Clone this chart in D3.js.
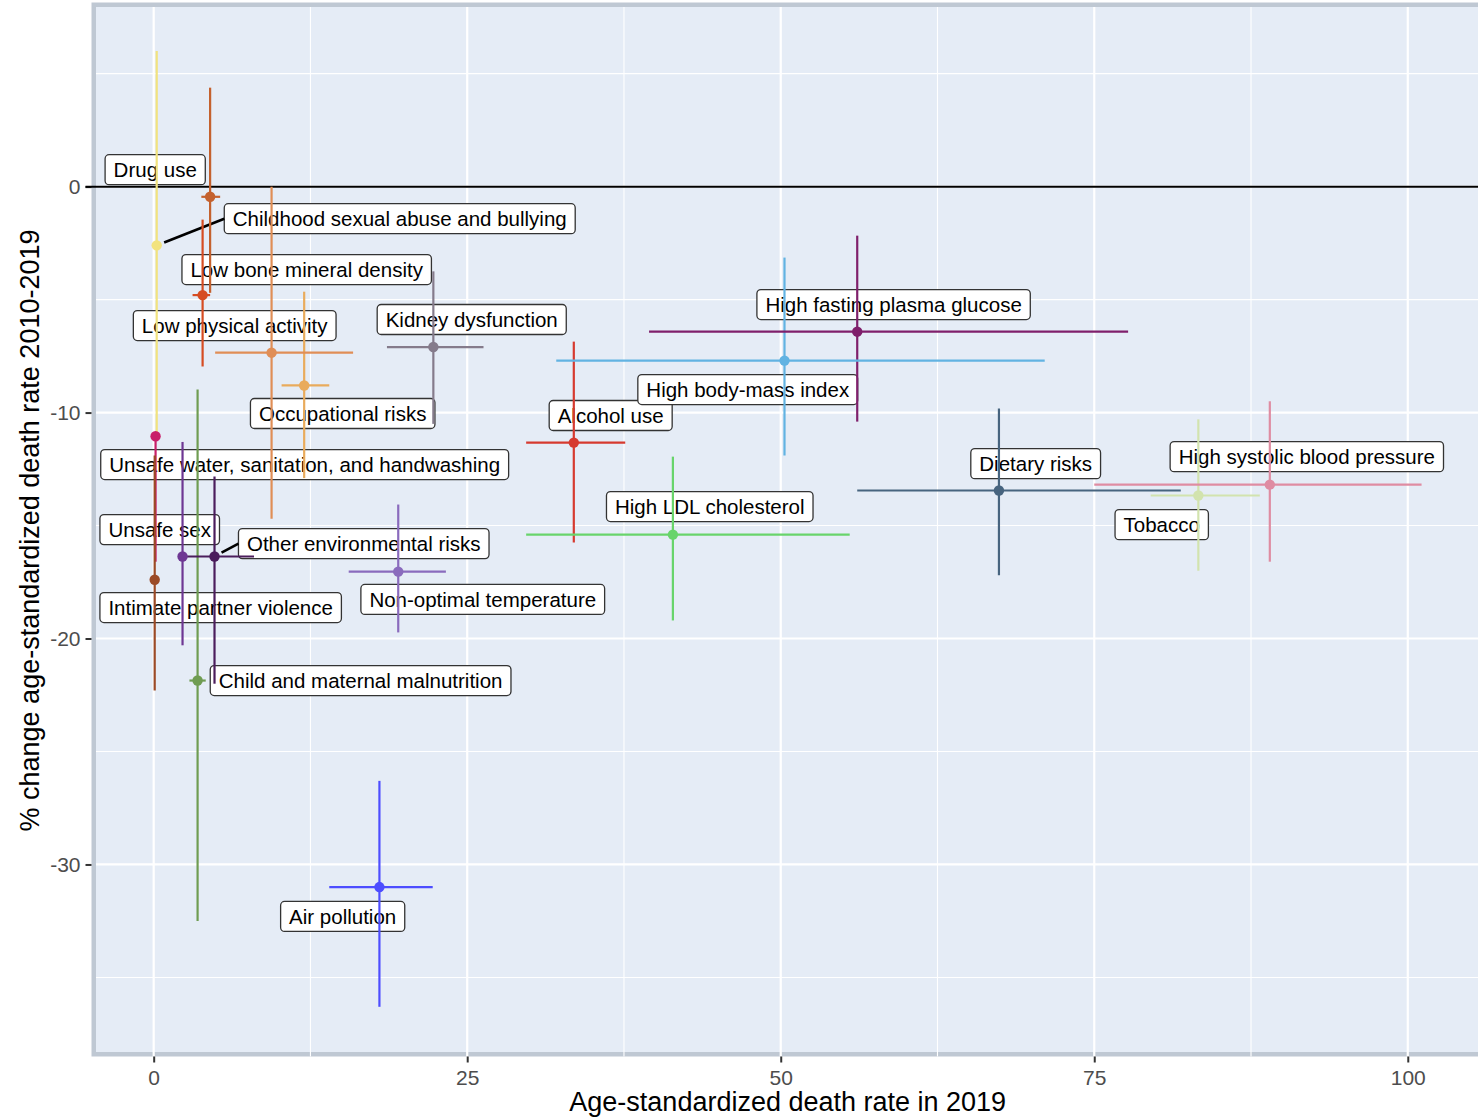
<!DOCTYPE html>
<html>
<head>
<meta charset="utf-8">
<script src="https://cdn.jsdelivr.net/npm/d3@7"></script>
<style>
  body { margin: 0; background: #fff; }
  svg { display: block; font-family: "Liberation Sans", Arial, Helvetica, sans-serif; }
</style>
</head>
<body>
<div id="container"></div>
<script>
/* DATA (drawing order) */
const risks = [
  "Unsafe water, sanitation, and handwashing", "Intimate partner violence",
  "Childhood sexual abuse and bullying", "Drug use", "Low bone mineral density",
  "Low physical activity", "Occupational risks", "Kidney dysfunction", "Unsafe sex",
  "Other environmental risks", "Child and maternal malnutrition", "Non-optimal temperature",
  "Air pollution", "Alcohol use", "High LDL cholesterol", "High body-mass index",
  "High fasting plasma glucose", "Dietary risks", "Tobacco", "High systolic blood pressure"
];
// age-standardized death rate 2019 (value, lower, upper)
const rate   = [0.15, 0.08, 0.24, 4.5, 3.9, 9.4, 12.0, 22.3, 2.3, 4.85, 3.5, 19.5, 18.0, 33.5, 41.4, 50.3, 56.1, 67.4, 83.3, 89.0];
const rateLo = [0.05, 0.0, 0.14, 3.8, 3.1, 4.9, 10.2, 18.6, 2.0, 2.0, 2.85, 15.55, 14.0, 29.7, 29.7, 32.1, 39.5, 56.1, 79.5, 75.0];
const rateHi = [0.25, 0.16, 0.34, 5.3, 4.5, 15.9, 14.0, 26.3, 2.6, 8.0, 4.15, 23.3, 22.25, 37.6, 55.5, 71.05, 77.7, 81.9, 88.2, 101.1];
// % change 2010-2019 (value, lower, upper)
const change   = [-11.05, -17.4, -2.6, -0.45, -4.8, -7.35, -8.8, -7.1, -16.37, -16.37, -21.86, -17.04, -31.0, -11.33, -15.4, -7.7, -6.42, -13.45, -13.67, -13.19];
const changeLo = [-16.6, -22.3, -11.06, -4.7, -7.96, -14.7, -12.9, -10.5, -20.3, -22.0, -32.5, -19.73, -36.3, -15.75, -19.2, -11.9, -10.4, -17.2, -17.0, -16.6];
const changeHi = [-11.0, -11.9, 6.0, 4.38, -1.46, 0.0, -4.65, -3.75, -11.3, -12.83, -8.98, -14.07, -26.3, -6.86, -11.95, -3.14, -2.17, -9.82, -10.3, -9.5];
const colors = ["#c8206a", "#9b4a26", "#f2e37e", "#c4612e", "#d64c22", "#e08e56", "#e9ab5c", "#857b8b", "#6e3793",
  "#4b1d5c", "#6f9c52", "#8a6bbd", "#4d4dff", "#d63a2f", "#68d46b", "#62b3e2", "#7f1f6b", "#47647f", "#d2e3ae", "#df8ca2"];
// repelled label centres (data units)
const labelX = [12.04, 5.34, 19.62, 0.12, 12.2, 6.46, 15.07, 25.36, 0.48, 16.75, 16.5, 26.24, 15.07, 36.44, 44.34, 47.37, 59.0, 70.33, 80.38, 91.95];
const labelY = [-12.3, -18.63, -1.42, 0.75, -3.67, -6.15, -10.04, -5.88, -15.18, -15.8, -21.86, -18.27, -32.3, -10.13, -14.16, -8.98, -5.22, -12.26, -14.96, -11.95];
const segmentRisks = ["Childhood sexual abuse and bullying", "Other environmental risks"];
const xTicks = [0, 25, 50, 75, 100];
const yTicks = [0, -10, -20, -30];

const data = risks.map((r, i) => ({
  risk: r, x: rate[i], xlo: rateLo[i], xhi: rateHi[i],
  y: change[i], ylo: changeLo[i], yhi: changeHi[i],
  color: colors[i], lx: labelX[i], ly: labelY[i]
}));

/* CONSTANTS */
const width = 1478, height = 1118,
  margin = { top: 7, right: 0, bottom: 66, left: 96 };

const x = d3.scaleLinear().domain([-4.6, 105.6]).range([margin.left, width - margin.right]);
const y = d3.scaleLinear().domain([-38.3, 7.95]).range([height - margin.bottom, margin.top]);

const svg = d3.select("#container").append("svg")
  .attr("width", width).attr("height", height);

// panel + border
const border = 4.5;
svg.append("rect")
  .attr("x", margin.left - border / 2).attr("y", margin.top - border / 2)
  .attr("width", width - margin.left + border).attr("height", y.range()[0] - margin.top + border)
  .attr("fill", "#e5ecf6").attr("stroke", "#bfc8d3").attr("stroke-width", border);

// grid
const xMinor = [12.5, 37.5, 62.5, 87.5];
const yMinor = [5, -5, -15, -25, -35];
const grid = svg.append("g");
grid.selectAll(".xminor").data(xMinor).join("line")
  .attr("x1", d => x(d)).attr("x2", d => x(d))
  .attr("y1", margin.top).attr("y2", y.range()[0] + border)
  .attr("stroke", "#fff").attr("stroke-width", 1.1);
grid.selectAll(".yminor").data(yMinor).join("line")
  .attr("x1", margin.left).attr("x2", width)
  .attr("y1", d => y(d)).attr("y2", d => y(d))
  .attr("stroke", "#fff").attr("stroke-width", 1.1);
grid.selectAll(".xmajor").data(xTicks).join("line")
  .attr("x1", d => x(d)).attr("x2", d => x(d))
  .attr("y1", margin.top).attr("y2", y.range()[0] + border)
  .attr("stroke", "#fff").attr("stroke-width", 2.2);
grid.selectAll(".ymajor").data(yTicks).join("line")
  .attr("x1", margin.left).attr("x2", width)
  .attr("y1", d => y(d)).attr("y2", d => y(d))
  .attr("stroke", "#fff").attr("stroke-width", 2.2);

// axes
const xAxis = svg.append("g")
  .attr("transform", `translate(0,${y.range()[0] + border})`)
  .call(d3.axisBottom(x).tickValues(xTicks).tickSize(6).tickPadding(4).tickFormat(d3.format("d")));
const yAxis = svg.append("g")
  .attr("transform", `translate(${margin.left - border},0)`)
  .call(d3.axisLeft(y).tickValues(yTicks).tickSize(6).tickPadding(5).tickFormat(d => d === 0 ? "0" : "-" + Math.abs(d)));
[xAxis, yAxis].forEach(a => {
  a.select(".domain").remove();
  a.selectAll(".tick line").attr("stroke", "#333").attr("stroke-width", 2);
  a.selectAll(".tick text").attr("fill", "#4d4d4d").style("font-size", "21px")
    .style("font-family", '"Liberation Sans", Arial, sans-serif');
});
xAxis.selectAll(".tick text").attr("dy", "0.9em");

// zero line
svg.append("line")
  .attr("x1", margin.left - border - 6).attr("x2", width)
  .attr("y1", y(0)).attr("y2", y(0))
  .attr("stroke", "#000").attr("stroke-width", 2);

// axis titles
svg.append("text")
  .attr("x", (x(0) + x(100)) / 2 + 7).attr("y", height - 7)
  .attr("text-anchor", "middle").style("font-size", "27px").attr("fill", "#000")
  .text("Age-standardized death rate in 2019");
svg.append("text")
  .attr("transform", `translate(39,${(margin.top + y.range()[0]) / 2 + 1}) rotate(-90)`)
  .attr("text-anchor", "middle").style("font-size", "27px").attr("fill", "#000")
  .text("% change age-standardized death rate 2010-2019");

// labels
const pad = 8.5, boxH = 30;
const labels = svg.append("g").selectAll("g").data(data).join("g")
  .attr("transform", d => `translate(${x(d.lx)},${y(d.ly)})`);
labels.append("rect").attr("class", "box");
labels.append("text")
  .attr("text-anchor", "middle").attr("dy", "0.36em")
  .style("font-size", "20.5px").attr("fill", "#000")
  .text(d => d.risk);
labels.each(function (d) {
  const w = d3.select(this).select("text").node().getComputedTextLength() + pad * 2;
  d.boxW = w;
  d3.select(this).select("rect")
    .attr("x", -w / 2).attr("y", -boxH / 2).attr("width", w).attr("height", boxH)
    .attr("rx", 4).attr("fill", "#fff").attr("stroke", "#333").attr("stroke-width", 1.3);
});

// segments from point to label (left-middle of box)
svg.append("g").selectAll("line").data(data.filter(d => segmentRisks.includes(d.risk))).join("line")
  .each(function (d) {
    const px = x(d.x), py = y(d.y);
    const ex = x(d.lx) - d.boxW / 2, ey = y(d.ly);
    const len = Math.hypot(ex - px, ey - py), gap = 8;
    d3.select(this)
      .attr("x1", px + (ex - px) * gap / len).attr("y1", py + (ey - py) * gap / len)
      .attr("x2", ex).attr("y2", ey);
  })
  .attr("stroke", "#000").attr("stroke-width", 2.6);

// vertical error bars
svg.append("g").selectAll("line").data(data).join("line")
  .attr("x1", d => x(d.x)).attr("x2", d => x(d.x))
  .attr("y1", d => y(d.ylo)).attr("y2", d => y(d.yhi))
  .attr("stroke", d => d.color).attr("stroke-width", 2.2);

// horizontal error bars
svg.append("g").selectAll("line").data(data).join("line")
  .attr("x1", d => x(d.xlo)).attr("x2", d => x(d.xhi))
  .attr("y1", d => y(d.y)).attr("y2", d => y(d.y))
  .attr("stroke", d => d.color).attr("stroke-width", 2.2);

// points
svg.append("g").selectAll("circle").data(data).join("circle")
  .attr("cx", d => x(d.x)).attr("cy", d => y(d.y)).attr("r", 5.2)
  .attr("fill", d => d.color);
</script>
</body>
</html>
